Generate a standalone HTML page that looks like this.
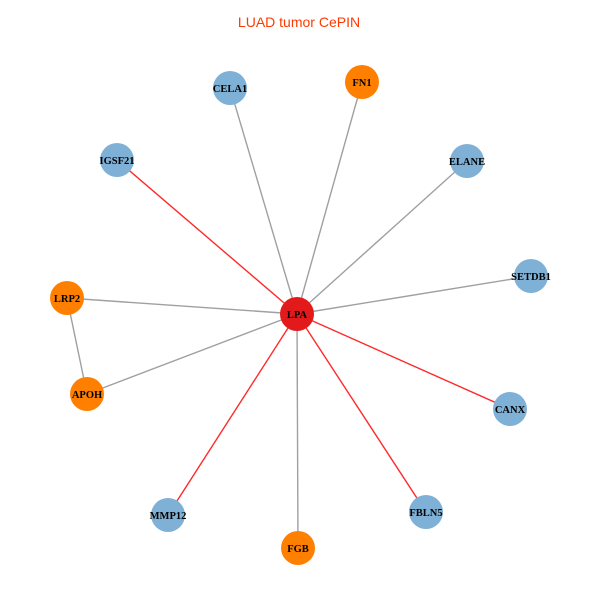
<!DOCTYPE html>
<html><head><style>body{margin:0;background:#fff}</style></head><body>
<svg width="600" height="600" xmlns="http://www.w3.org/2000/svg">
<rect width="600" height="600" fill="#fff"/>
<text x="299" y="27" text-anchor="middle" font-family="Liberation Sans, sans-serif" font-size="14" fill="#ff3a00">LUAD tumor CePIN</text>
<g stroke-width="1.4">
<line x1="297" y1="314" x2="230" y2="88" stroke="#a0a0a0"/>
<line x1="297" y1="314" x2="362" y2="82" stroke="#a0a0a0"/>
<line x1="297" y1="314" x2="117" y2="160" stroke="#ff2a2a"/>
<line x1="297" y1="314" x2="467" y2="161" stroke="#a0a0a0"/>
<line x1="297" y1="314" x2="531" y2="276" stroke="#a0a0a0"/>
<line x1="297" y1="314" x2="67" y2="298" stroke="#a0a0a0"/>
<line x1="297" y1="314" x2="87" y2="394" stroke="#a0a0a0"/>
<line x1="67" y1="298" x2="87" y2="394" stroke="#a0a0a0"/>
<line x1="297" y1="314" x2="510" y2="409" stroke="#ff2a2a"/>
<line x1="297" y1="314" x2="168" y2="515" stroke="#ff2a2a"/>
<line x1="297" y1="314" x2="426" y2="512" stroke="#ff2a2a"/>
<line x1="297" y1="314" x2="298" y2="548" stroke="#a0a0a0"/>
</g>
<g font-family="Liberation Serif, serif" font-size="10.5" font-weight="bold" text-anchor="middle" fill="#000">
<circle cx="230" cy="88" r="17" fill="#7fb0d5"/><text x="230" y="92">CELA1</text>
<circle cx="362" cy="82" r="17" fill="#ff7f00"/><text x="362" y="86">FN1</text>
<circle cx="117" cy="160" r="17" fill="#7fb0d5"/><text x="117" y="164">IGSF21</text>
<circle cx="467" cy="161" r="17" fill="#7fb0d5"/><text x="467" y="165">ELANE</text>
<circle cx="531" cy="276" r="17" fill="#7fb0d5"/><text x="531" y="280">SETDB1</text>
<circle cx="67" cy="298" r="17" fill="#ff7f00"/><text x="67" y="302">LRP2</text>
<circle cx="87" cy="394" r="17" fill="#ff7f00"/><text x="87" y="398">APOH</text>
<circle cx="510" cy="409" r="17" fill="#7fb0d5"/><text x="510" y="413">CANX</text>
<circle cx="168" cy="515" r="17" fill="#7fb0d5"/><text x="168" y="519">MMP12</text>
<circle cx="426" cy="512" r="17" fill="#7fb0d5"/><text x="426" y="516">FBLN5</text>
<circle cx="298" cy="548" r="17" fill="#ff7f00"/><text x="298" y="552">FGB</text>
<circle cx="297" cy="314" r="17" fill="#e31a1c"/><text x="297" y="318">LPA</text>
</g>
</svg>
</body></html>
